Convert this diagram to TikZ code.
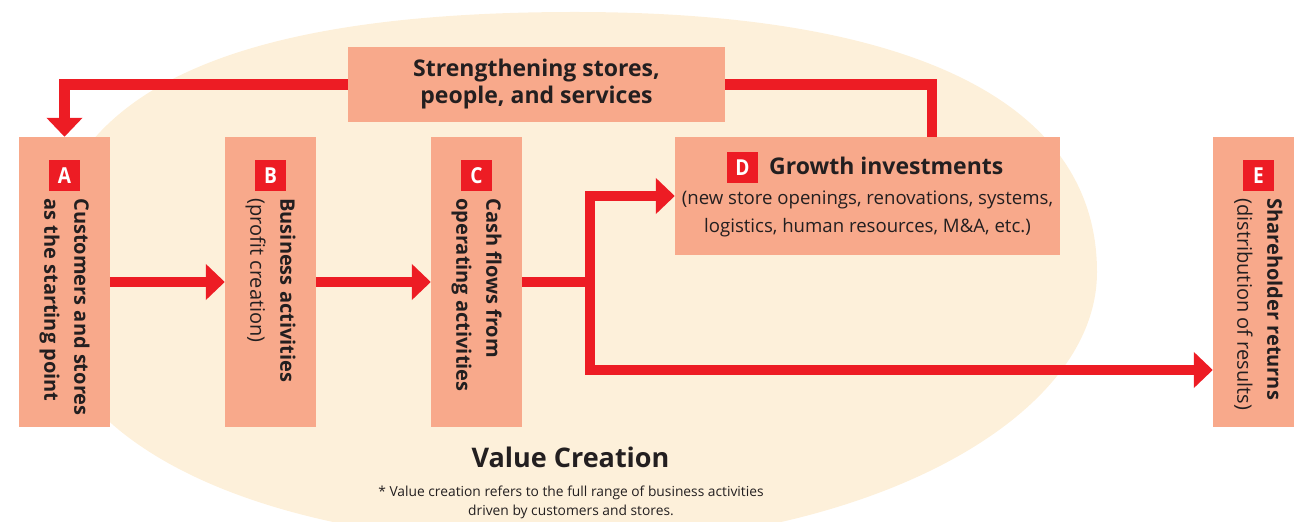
\documentclass[tikz,border=0pt]{standalone}
\usepackage{fontspec}
\setmainfont{Open Sans}
\newfontfamily\narrowfont[FakeStretch=0.87]{Open Sans}
\usetikzlibrary{arrows.meta,positioning}
\definecolor{BoxSalmon}{HTML}{F8A98B}
\definecolor{FlowRed}{HTML}{ED1C24}
\definecolor{Cream}{HTML}{FDF0DA}
\definecolor{Ink}{HTML}{231F20}
\tikzset{
  stage/.style={fill=BoxSalmon, inner sep=0pt, minimum width=91pt, minimum height=290pt},
  tag/.style={fill=FlowRed, text=white, inner sep=0pt, minimum size=31pt,
    font=\narrowfont\fontsize{22}{22}\selectfont\bfseries},
  vtext/.style={rotate=-90, anchor=west, inner sep=0pt, align=left, text=Ink,
    font=\fontsize{20}{30}\selectfont},
  flow/.style={draw=FlowRed, line width=10.5pt},
  arrow/.style={flow, -{Triangle[length=19pt,width=35pt]}},
}

\begin{document}
\begin{tikzpicture}[x=1pt,y=1pt]
    \clip (0,0) rectangle (1294,522);

    % value creation area behind everything
    \fill[Cream] (575,510) .. controls (914,510) and (1097,419) .. (1097,250)
        .. controls (1097,100) and (860,-23) .. (570,-23)
        .. controls (254,-23) and (43,81) .. (43,237)
        .. controls (43,423) and (213,510) .. (575,510) -- cycle;

    % stages
    \node[stage] (A) at (64.5,240) {};
    \node[stage] (B) at (270.5,240) {};
    \node[stage] (C) at (476.5,240) {};
    \node[stage] (E) at (1258.5,240) {};
    \node[fill=BoxSalmon, minimum width=385pt, minimum height=118pt] (D) at (867.5,326) {};
    \node[fill=BoxSalmon, minimum width=377pt, minimum height=75pt, align=center, text=Ink,
        font=\fontsize{23}{27}\selectfont\bfseries] (S) at (536.5,437.5)
        {Strengthening stores,\\people, and services};

    \node[tag, below=23pt of A.north] (tagA) {A};
    \node[tag, below=23pt of B.north] (tagB) {B};
    \node[tag, below=23pt of C.north] (tagC) {C};
    \node[tag, below=23pt of E.north] (tagE) {E};
    \node[vtext] (txtA) at ([yshift=-7pt]tagA.south)
        {\bfseries Customers and stores\\\bfseries as the starting point};
    \node[vtext] (txtB) at ([yshift=-7pt]tagB.south)
        {\bfseries Business activities\\(profit creation)};
    \node[vtext] (txtC) at ([yshift=-7pt]tagC.south)
        {\bfseries Cash flows from\\\bfseries operating activities};
    \node[vtext] (txtE) at ([yshift=-7pt]tagE.south)
        {\bfseries Shareholder returns\\(distribution of results)};

    \node[tag] (tagD) at (742.5,354.5) {D};
    \node[anchor=base west, inner sep=0pt, text=Ink, font=\fontsize{23}{27}\selectfont\bfseries]
        (titleD) at (769,347) {Growth investments};
    \node[anchor=base, inner sep=0pt, text=Ink, font=\fontsize{18.6}{28}\selectfont]
        (lineD1) at (867.5,317) {(new store openings, renovations, systems,};
    \node[anchor=base, inner sep=0pt, text=Ink, font=\fontsize{18.6}{28}\selectfont]
        (lineD2) at (867.5,289) {logistics, human resources, M\&A, etc.)};

    % flows
    \coordinate (fork) at (590,240);
    \coordinate (toE) at (E.west |- 0,152);
    \draw[arrow] (A) -- (B);
    \draw[arrow] (B) -- (C);
    \draw[flow] (C) -- (fork);
    \draw[arrow] (fork) |- (D.west);
    \draw[arrow] (fork) |- (toE);
    \draw[flow] (D.north -| 932,0) |- (S.east);
    \draw[arrow] (S.west) -| (A.north);

    \node[anchor=base, inner sep=0pt, text=Ink, font=\fontsize{27}{27}\selectfont\bfseries]
        (title) at (570.5,54) {Value Creation};
    \node[anchor=base, inner sep=0pt, text=Ink, font=\fontsize{13.8}{19}\selectfont]
        (note1) at (571,25) {* Value creation refers to the full range of business activities};
    \node[anchor=base, inner sep=0pt, text=Ink, font=\fontsize{13.8}{19}\selectfont]
        (note2) at (571,6) {driven by customers and stores.};
\end{tikzpicture}
\end{document}
